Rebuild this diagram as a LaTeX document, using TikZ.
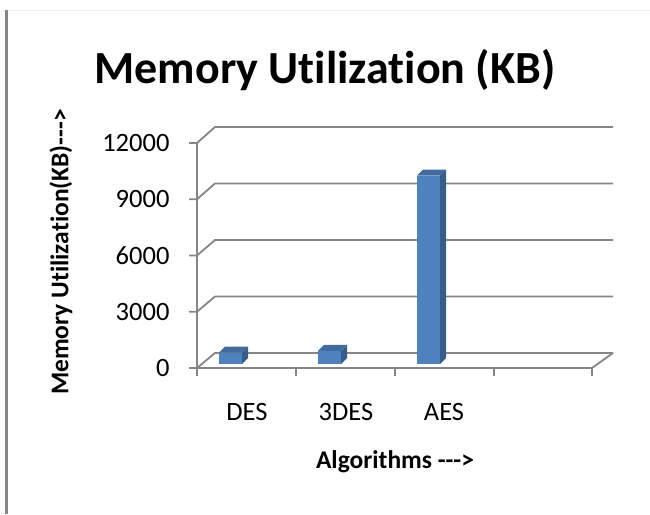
\documentclass[tikz,border=0pt]{standalone}
\usepackage{fontspec}
\setmainfont{Carlito}[Ligatures={NoCommon}]
\usetikzlibrary{positioning}

\definecolor{barfront}{RGB}{79,129,189}
\definecolor{barside}{RGB}{56,93,138}
\definecolor{bartop}{RGB}{66,108,160}
\definecolor{gridgray}{RGB}{134,134,134}

\begin{document}
\begin{tikzpicture}[x=1pt, y=-1pt,
              gridline/.style={draw=gridgray, line width=1.8pt},
              ticklab/.style={font=\fontsize{26.5}{29}\selectfont},
              axtitle/.style={font=\bfseries\fontsize{25.5}{28}\selectfont}
            ]
              \useasboundingbox (0,0) rectangle (650,514);
              % frame
              \draw[gridgray, line width=3pt] (6.5,10) -- (6.5,514);
              \draw[black!6, line width=1pt] (8,10) -- (650,10);

              % grid, walls and value labels
              \foreach \i/\lab in {0/0,1/3000,2/6000,3/9000,4/12000} {
                \draw[gridline] (189,368-\i*56.25) -- (197,368-\i*56.25) -- (215,353-\i*56.5) -- (613,353-\i*56.5);
                \node[ticklab, anchor=east] (y\i) at (173,368-\i*56.25) {\lab};
              }
              \draw[gridline] (197,143) -- (197,376);
              \draw[gridline] (197,368) -- (592,368) -- (613,353);
              \foreach \x in {296,395,494,592}
                \draw[gridline] (\x,368) -- (\x,376);

              % bars
              \foreach \n/\x/\v in {des/219/600, tdes/318/700, aes/417/10000} {
                \pgfmathsetmacro\h{\v/12000*226}
                \fill[barfront] (\x,364) rectangle (\x+23,364-\h);
                \fill[barside] (\x+23,364) -- (\x+29,358) -- (\x+29,358-\h) -- (\x+23,364-\h) -- cycle;
                \fill[bartop] (\x,364-\h) -- (\x+6,358-\h) -- (\x+29,358-\h) -- (\x+23,364-\h) -- cycle;
              }

              % labels
              \node[font=\bfseries\fontsize{46}{50}\selectfont] (title) at (325,70) {Memory Utilization (KB)};
              \node[ticklab] (des)  at (247,412) {DES};
              \node[ticklab] (tdes) at (346,412) {3DES};
              \node[ticklab] (aes)  at (444,412) {AES};
              \node[axtitle] (xtitle) at (395,462) {Algorithms -{}-{}-{}>};
              \node[axtitle, rotate=90] (ytitle) at (61,252) {Memory Utilization(KB)-{}-{}-{}>};
            \end{tikzpicture}
\end{document}
